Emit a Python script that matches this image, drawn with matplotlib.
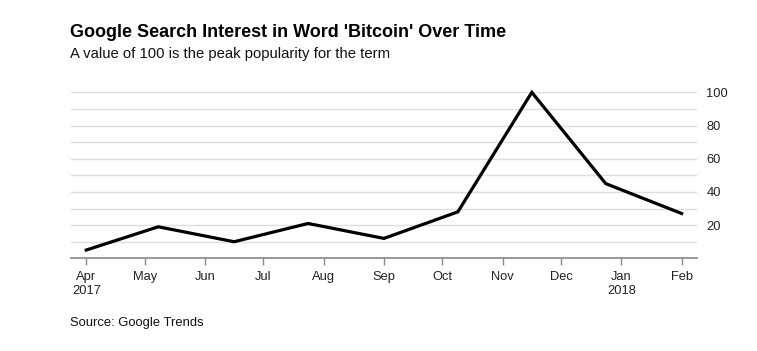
#!/usr/bin/env python3
"""Google search interest in 'Bitcoin' line chart."""

import matplotlib
matplotlib.use("Agg")
import matplotlib.pyplot as plt
import pandas as pd

dates = ["2017-04-01", "2017-05-08", "2017-06-16", "2017-07-24", "2017-09-01",
         "2017-10-09", "2017-11-16", "2017-12-24", "2018-02-01"]
interest = [5, 19, 10, 21, 12, 28, 100, 45, 27]

tick_dates = ["2017-04-01", "2017-05-01", "2017-06-01", "2017-07-01", "2017-08-01",
              "2017-09-01", "2017-10-01", "2017-11-01", "2017-12-01", "2018-01-01",
              "2018-02-01"]
tick_labels = ["Apr\n2017", "May", "Jun", "Jul", "Aug", "Sep", "Oct", "Nov", "Dec",
               "Jan\n2018", "Feb"]
y_ticks = [20, 40, 60, 80, 100]

plt.rcParams["font.family"] = ["Liberation Sans", "DejaVu Sans"]

x = pd.to_datetime(dates)
fig = plt.figure(figsize=(7.57, 3.51), dpi=100)
ax = fig.add_axes([0.0934, 0.264, 0.8276, 0.473])

for v in range(10, 101, 10):
    ax.axhline(v, color="#dedede", linewidth=1.0, zorder=1)

ax.plot(x, interest, color="black", linewidth=2.3, zorder=3, clip_on=False,
        solid_joinstyle="miter")

ax.set_xlim(pd.Timestamp("2017-03-24"), pd.Timestamp("2018-02-09"))
ax.set_ylim(0, 100)
ax.set_xticks(pd.to_datetime(tick_dates))
ax.set_xticklabels(tick_labels)
ax.set_yticks(y_ticks)
ax.set_yticklabels([str(v) for v in y_ticks])

ax.yaxis.tick_right()
ax.tick_params(axis="y", length=0, pad=6.5, labelsize=9.3, colors="#222222")
ax.tick_params(axis="x", direction="out", length=5, width=1, color="#888888",
               labelsize=9.3, labelcolor="#222222", pad=4)
for side in ["top", "left", "right"]:
    ax.spines[side].set_visible(False)
ax.spines["bottom"].set_color("#888888")
ax.spines["bottom"].set_linewidth(1.2)

fig.text(0.0925, 0.895, "Google Search Interest in Word 'Bitcoin' Over Time",
         fontsize=13.0, fontweight="bold", color="black")
fig.text(0.0925, 0.835, "A value of 100 is the peak popularity for the term",
         fontsize=10.7, color="#111111")
fig.text(0.0925, 0.072, "Source: Google Trends", fontsize=9.4, color="#111111")

fig.savefig("out.png", dpi=100)
